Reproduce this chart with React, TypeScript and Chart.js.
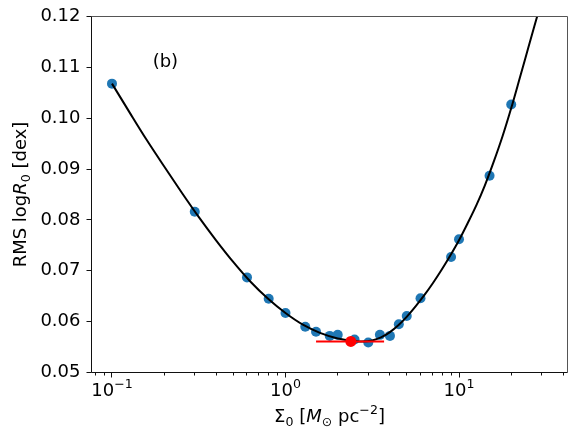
import React, { useEffect, useRef } from "react";
import { Chart, registerables } from "chart.js";

Chart.register(...registerables);

// ---- data ----
const pointX = [0.1, 0.3, 0.6, 0.8, 1.0, 1.3, 1.5, 1.8, 2.0, 2.5, 3.0, 3.5, 4.0, 4.5, 5.0, 6.0, 9.0, 10, 15, 20];
const pointY = [0.1068, 0.0816, 0.0687, 0.0645, 0.0617, 0.059, 0.058, 0.0572, 0.0574, 0.0565, 0.0559, 0.0574, 0.0572, 0.0595, 0.0611, 0.0646, 0.0727, 0.0762, 0.0887, 0.1027];

const curveX = [0.1, 0.126, 0.158, 0.2, 0.251, 0.316, 0.398, 0.501, 0.631, 0.794, 1.0, 1.26, 1.58, 2.0, 2.51, 2.75, 3.16, 3.55, 3.98, 4.47, 5.01, 5.62, 6.31, 7.08, 7.94, 8.91, 10, 11.2, 12.6, 14.1, 15.8, 17.8, 20.0, 22.4, 25.1, 28.2];
const curveY = [0.1068, 0.1012, 0.0958, 0.0905, 0.0855, 0.0806, 0.076, 0.0717, 0.0678, 0.0645, 0.0617, 0.0594, 0.0578, 0.0567, 0.0562, 0.0561, 0.0563, 0.0569, 0.0579, 0.0593, 0.061, 0.063, 0.0652, 0.0676, 0.0702, 0.073, 0.076, 0.0793, 0.0829, 0.0868, 0.0913, 0.0964, 0.102, 0.1079, 0.1139, 0.12];

const bestX = [2.38];
const bestY = [0.0561];
const errLow = [1.5];
const errHigh = [3.7];

const yTicks = [0.05, 0.06, 0.07, 0.08, 0.09, 0.1, 0.11, 0.12];
const xMajorTicks = [0.1, 1, 10];
const xMajorExp = ["\u22121", "0", "1"];
const xMinorTicks = [0.08, 0.09, 0.2, 0.3, 0.4, 0.5, 0.6, 0.7, 0.8, 0.9, 2, 3, 4, 5, 6, 7, 8, 9, 20, 30, 40];

const xMin = 0.0762;
const xMax = 42.2;
const yMin = 0.05;
const yMax = 0.12;

const panelText = "(b)";
const panelX = 0.1716;
const panelY = 0.1109;

const FONT = "'DejaVu Sans', sans-serif";
const FS = 18;

type Seg = { t: string; italic?: boolean; shift?: number; scale?: number };

function segFont(s: Seg, size: number) {
  return `${s.italic ? "italic " : ""}${(size * (s.scale ?? 1)).toFixed(1)}px ${FONT}`;
}

function drawRich(ctx: CanvasRenderingContext2D, segs: Seg[], x: number, y: number, size: number, align: "center" | "left") {
  let w = 0;
  const widths = segs.map((s) => {
    ctx.font = segFont(s, size);
    const m = ctx.measureText(s.t).width;
    w += m;
    return m;
  });
  let cx = align === "center" ? x - w / 2 : x;
  ctx.textAlign = "left";
  ctx.textBaseline = "alphabetic";
  segs.forEach((s, i) => {
    ctx.font = segFont(s, size);
    ctx.fillText(s.t, cx, y + (s.shift ?? 0) * size);
    cx += widths[i];
  });
}

export default function App() {
  const ref = useRef<HTMLCanvasElement>(null);

  useEffect(() => {
    const canvas = ref.current;
    if (!canvas) return;

    const overlay = {
      id: "overlay",
      afterDraw(chart: any) {
        const ctx: CanvasRenderingContext2D = chart.ctx;
        const { left, right, top, bottom } = chart.chartArea;
        const xs = chart.scales.x;
        const ys = chart.scales.y;
        ctx.save();
        ctx.lineWidth = 1;
        ctx.strokeStyle = "#555";
        ctx.beginPath();
        ctx.moveTo(left, top);
        ctx.lineTo(right, top);
        ctx.lineTo(right, bottom);
        ctx.stroke();
        ctx.strokeStyle = "#111";
        ctx.beginPath();
        ctx.moveTo(left, top);
        ctx.lineTo(left, bottom);
        ctx.lineTo(right, bottom);
        ctx.stroke();
        yTicks.forEach((v) => {
          const py = Math.round(ys.getPixelForValue(v) - 0.5) + 0.5;
          ctx.beginPath();
          ctx.moveTo(left - 5, py);
          ctx.lineTo(left, py);
          ctx.stroke();
        });
        xMajorTicks.forEach((v) => {
          const px = Math.round(xs.getPixelForValue(v) - 0.5) + 0.5;
          ctx.beginPath();
          ctx.moveTo(px, bottom);
          ctx.lineTo(px, bottom + 5);
          ctx.stroke();
        });
        xMinorTicks.forEach((v) => {
          const px = Math.round(xs.getPixelForValue(v) - 0.5) + 0.5;
          ctx.beginPath();
          ctx.moveTo(px, bottom);
          ctx.lineTo(px, bottom + 3);
          ctx.stroke();
        });
        ctx.fillStyle = "#000";
        xMajorTicks.forEach((v, i) => {
          const px = xs.getPixelForValue(v);
          drawRich(ctx, [{ t: "10" }, { t: xMajorExp[i], scale: 0.7, shift: -0.42 }], px, bottom + 23, FS, "center");
        });
        drawRich(
          ctx,
          [
            { t: "\u03A3" },
            { t: "0", scale: 0.7, shift: 0.2 },
            { t: " [" },
            { t: "M", italic: true },
            { t: "\u2299", scale: 0.7, shift: 0.2 },
            { t: " pc" },
            { t: "\u22122", scale: 0.7, shift: -0.42 },
            { t: "]" },
          ],
          (left + right) / 2,
          422,
          FS,
          "center"
        );
        ctx.save();
        ctx.translate(26, (top + bottom) / 2);
        ctx.rotate(-Math.PI / 2);
        drawRich(
          ctx,
          [{ t: "RMS log" }, { t: "R", italic: true }, { t: "0", scale: 0.7, shift: 0.2 }, { t: " [dex]" }],
          0,
          0,
          FS,
          "center"
        );
        ctx.restore();
        ctx.font = `${FS}px ${FONT}`;
        ctx.textAlign = "left";
        ctx.textBaseline = "middle";
        ctx.fillText(panelText, xs.getPixelForValue(panelX), ys.getPixelForValue(panelY));
        ctx.restore();
      },
    };

    const chart = new Chart(canvas, {
      type: "scatter",
      data: {
        datasets: [
          {
            label: "best",
            data: bestX.map((x, i) => ({ x, y: bestY[i] })),
            pointRadius: 5.5,
            backgroundColor: "#ff0000",
            borderColor: "#ff0000",
            borderWidth: 0,
          },
          {
            label: "range",
            type: "line",
            data: [
              { x: errLow[0], y: bestY[0] },
              { x: errHigh[0], y: bestY[0] },
            ],
            borderColor: "#ff0000",
            borderWidth: 2,
            pointRadius: 0,
            fill: false,
          },
          {
            label: "fit",
            type: "line",
            data: curveX.map((x, i) => ({ x, y: curveY[i] })),
            borderColor: "#000000",
            borderWidth: 2,
            pointRadius: 0,
            fill: false,
            cubicInterpolationMode: "monotone",
          },
          {
            label: "points",
            data: pointX.map((x, i) => ({ x, y: pointY[i] })),
            pointRadius: 5,
            backgroundColor: "#1f77b4",
            borderColor: "#1f77b4",
            borderWidth: 0,
          },
        ] as any,
      },
      options: {
        animation: false,
        responsive: false,
        maintainAspectRatio: false,
        devicePixelRatio: 1,
        events: [],
        layout: { padding: { left: 0, top: 16.5, right: 14.5, bottom: 0 } },
        plugins: {
          legend: { display: false },
          tooltip: { enabled: false },
        },
        scales: {
          x: {
            type: "logarithmic",
            min: xMin,
            max: xMax,
            grid: { display: false, drawTicks: false },
            border: { display: false },
            ticks: { display: false },
            afterFit: (s: any) => {
              s.height = 68.5;
              s.paddingLeft = 0;
              s.paddingRight = 0;
            },
          },
          y: {
            type: "linear",
            min: yMin,
            max: yMax,
            grid: { display: false, drawTicks: false },
            border: { display: false },
            ticks: {
              color: "#000",
              padding: 11,
              font: { family: FONT, size: FS },
              callback: (v: any) => Number(v).toFixed(2),
            },
            afterBuildTicks: (s: any) => {
              s.ticks = yTicks.map((v) => ({ value: v }));
            },
            afterFit: (s: any) => {
              s.width = 91.5;
              s.paddingTop = 0;
              s.paddingBottom = 0;
            },
          },
        },
      } as any,
      plugins: [overlay],
    });

    return () => chart.destroy();
  }, []);

  return (
    <div style={{ position: "fixed", left: 0, top: 0, width: 582, height: 441, background: "#fff" }}>
      <canvas ref={ref} width={582} height={441} style={{ display: "block" }} />
    </div>
  );
}
